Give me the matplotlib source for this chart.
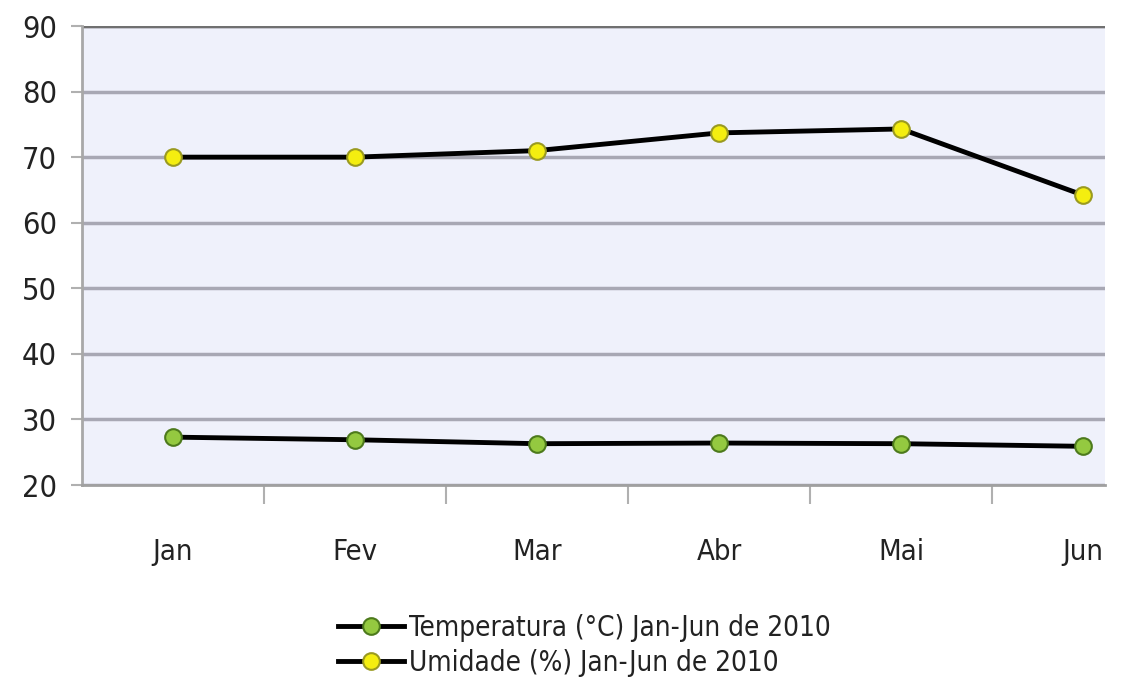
import matplotlib.pyplot as plt

# Month labels and series
meses = ['Jan', 'Fev', 'Mar', 'Abr', 'Mai', 'Jun']
temperatura = [27.3, 26.9, 26.3, 26.4, 26.3, 25.9]
umidade = [70.0, 70.0, 71.0, 73.7, 74.3, 64.2]

plt.rcParams['font.family'] = ['DejaVu Sans']
plt.rcParams['font.stretch'] = 'condensed'

fig = plt.figure(figsize=(11.23, 6.79), dpi=100)
ax = fig.add_axes([0.073, 0.2857, 0.911, 0.676])
ax.set_facecolor('#eff1fb')

x = list(range(len(meses)))
ax.plot(x, temperatura, color='black', linewidth=3.5, marker='o', markersize=12,
        markerfacecolor='#94c940', markeredgecolor='#4d7a1c', markeredgewidth=1.5,
        label='Temperatura (°C) Jan-Jun de 2010', zorder=3)
ax.plot(x, umidade, color='black', linewidth=3.5, marker='o', markersize=12,
        markerfacecolor='#f4ee10', markeredgecolor='#9a9a20', markeredgewidth=1.5,
        label='Umidade (%) Jan-Jun de 2010', zorder=3)

ax.set_ylim(20, 90)
ax.set_yticks(range(20, 91, 10))
ax.set_xlim(-0.5, 5.12)
ax.yaxis.grid(True, color='#a8a8b4', linewidth=2.5)
ax.set_axisbelow(True)

# category labels at points, tick marks between categories
ax.set_xticks(x)
ax.set_xticklabels(meses)
ax.set_xticks([i + 0.5 for i in range(5)], minor=True)
ax.tick_params(axis='x', which='major', length=0, pad=38, labelsize=21, labelcolor='#222222')
ax.tick_params(axis='x', which='minor', length=14, width=1.5, color='#b0b0b0')
ax.tick_params(axis='y', length=8, width=1.5, color='#b0b0b0', labelsize=22, labelcolor='#222222', pad=10)

for s in ['top', 'right']:
    ax.spines[s].set_visible(False)
ax.spines['left'].set_color('#a8a8a8')
ax.spines['left'].set_linewidth(2)
ax.spines['bottom'].set_color('#a0a0a0')
ax.spines['bottom'].set_linewidth(2)
ax.axhline(90, color='#707070', linewidth=2.5)

fig.legend(loc='center', bbox_to_anchor=(0.52, 0.05), frameon=False, fontsize=20,
           handlelength=2.4, handletextpad=0.15, labelspacing=0.25, labelcolor='#222222')

fig.savefig('out.png', dpi=100, facecolor='white')
